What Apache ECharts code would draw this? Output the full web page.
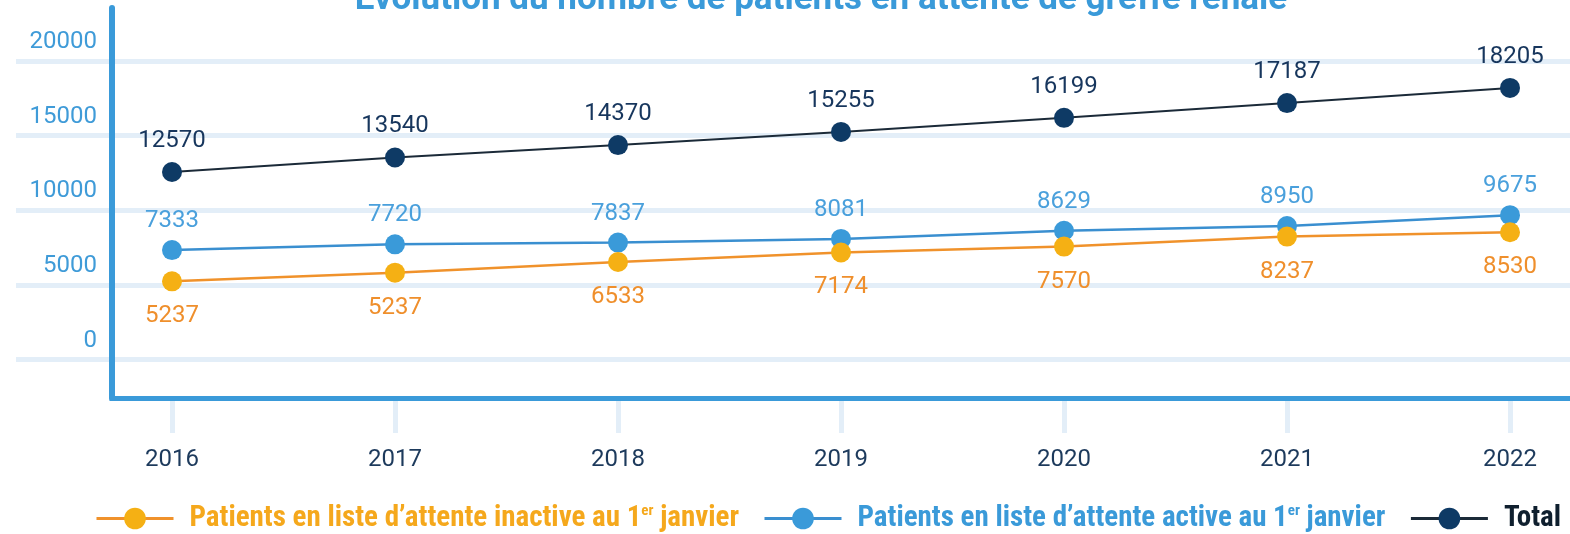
<!DOCTYPE html>
<html>
<head>
<meta charset="utf-8">
<script src="https://cdn.jsdelivr.net/npm/echarts@6/dist/echarts.min.js"></script>
<style>html,body{margin:0;padding:0;background:#fff}#c{width:1570px;height:534px}</style>
</head>
<body>
<div id="c"></div>
<script>
// ---- data ----
var years = ['2016', '2017', '2018', '2019', '2020', '2021', '2022'];
var inactive = [5237, 5820, 6533, 7174, 7570, 8237, 8530];
var inactiveLabels = ['5237', '5237', '6533', '7174', '7570', '8237', '8530'];
var active = [7333, 7720, 7837, 8081, 8629, 8950, 9675];
var total = [12570, 13540, 14370, 15255, 16199, 17187, 18205];
var yTicks = [0, 5000, 10000, 15000, 20000];
var titleText = 'Évolution du nombre de patients en attente de greffe rénale';
var nameInactive = 'Patients en liste d’attente inactive au 1er janvier';
var nameActive = 'Patients en liste d’attente active au 1er janvier';
var nameTotal = 'Total';

// ---- layout ----
var YMIN = -2580, YMAX = 23560;
var TOP = 8, BOTTOM = 136;
var BLUE = '#3a9ad9', GRIDC = '#e3eef8';
var FONT = 'Roboto, sans-serif';
var LFONT = "'Liberation Sans Narrow', 'Roboto Condensed', Roboto, sans-serif";
var LSIZE = 29;

function legendFmt(n) {
  if (n.indexOf('1er') >= 0) return '{a|' + n.replace('1er', '1}{sup|er}{a|') + '}';
  return '{a|' + n + '}';
}
function legendItem(name, color) {
  return {
    name: name,
    textStyle: {
      color: color,
      rich: {
        a: {color: color, fontSize: LSIZE, fontWeight: 'bold', fontFamily: LFONT},
        sup: {color: color, fontSize: 15, fontWeight: 'bold', fontFamily: LFONT, verticalAlign: 'top'}
      }
    }
  };
}

var chart = echarts.init(document.getElementById('c'), null, {renderer: 'canvas'});
chart.setOption({
  animation: false,
  backgroundColor: '#ffffff',
  graphic: [{
    type: 'text', x: 821, y: -17, z: 10,
    style: {text: titleText, fill: BLUE, font: 'bold 35px ' + FONT, textAlign: 'center', textVerticalAlign: 'top'}
  }],
  grid: [
    {left: 172, right: 60, top: TOP, bottom: BOTTOM},
    {left: 112, right: 0, top: TOP, bottom: BOTTOM},
    {left: 16, right: 0, top: TOP, bottom: BOTTOM}
  ],
  xAxis: [
    {
      gridIndex: 0, type: 'category', data: years, boundaryGap: false, position: 'bottom',
      axisLine: {show: false, onZero: false},
      axisTick: {show: true, inside: false, length: 35, interval: 0, lineStyle: {color: GRIDC, width: 5}},
      axisLabel: {margin: 50, fontSize: 24, color: '#1d3a5c', fontFamily: FONT, interval: 0},
      splitLine: {show: false}
    },
    {
      gridIndex: 1, type: 'value', min: 0, max: 1, z: 5, position: 'bottom',
      axisLine: {show: true, onZero: false, lineStyle: {color: BLUE, width: 5, cap: 'square'}},
      axisTick: {show: false}, axisLabel: {show: false}, splitLine: {show: false}
    },
    {
      gridIndex: 2, type: 'value', min: 0, max: 1, show: false
    }
  ],
  yAxis: [
    {gridIndex: 0, type: 'value', min: YMIN, max: YMAX, show: false},
    {
      gridIndex: 1, type: 'value', min: YMIN, max: YMAX, z: 5,
      minInterval: 5000, maxInterval: 5000,
      axisLine: {show: true, onZero: false, lineStyle: {color: BLUE, width: 6}},
      axisTick: {show: false},
      splitLine: {show: false},
      axisLabel: {
        margin: 15, fontSize: 24, color: '#3f9bd8', fontFamily: FONT,
        verticalAlign: 'bottom', padding: [0, 0, 7, 0],
        customValues: yTicks,
        formatter: function (v) { return yTicks.indexOf(v) >= 0 ? String(v) : ''; }
      }
    },
    {
      gridIndex: 2, type: 'value', min: YMIN, max: YMAX,
      minInterval: 5000, maxInterval: 5000,
      axisLine: {show: false}, axisTick: {show: false}, axisLabel: {show: false},
      splitLine: {show: true, showMinLine: false, showMaxLine: false, lineStyle: {color: GRIDC, width: 5}}
    }
  ],
  legend: {
    left: 95, top: 504, padding: 0,
    itemWidth: 77, itemHeight: 27, itemGap: 24,
    lineStyle: {width: 3},
    formatter: legendFmt,
    textStyle: {fontSize: LSIZE, fontWeight: 'bold', fontFamily: LFONT, padding: [0, 0, 0, 11]},
    data: [legendItem(nameInactive, '#f5a81c'), legendItem(nameActive, '#3a9ad9'), legendItem(nameTotal, '#0f1f2e')]
  },
  series: [
    {
      name: nameInactive, type: 'line', xAxisIndex: 0, yAxisIndex: 0, data: inactive, z: 3,
      symbol: 'circle', symbolSize: 20,
      itemStyle: {color: '#f5b014'}, lineStyle: {color: '#f0922b', width: 2.5},
      label: {show: true, position: 'bottom', distance: 13, fontSize: 24, fontFamily: FONT, color: '#ef8f2c',
        formatter: function (p) { return inactiveLabels[p.dataIndex]; }}
    },
    {
      name: nameActive, type: 'line', xAxisIndex: 0, yAxisIndex: 0, data: active, z: 2,
      symbol: 'circle', symbolSize: 20,
      itemStyle: {color: '#3a9ad9'}, lineStyle: {color: '#3a8fd0', width: 2.5},
      label: {show: true, position: 'top', distance: 7, fontSize: 24, fontFamily: FONT, color: '#4aa0dc'}
    },
    {
      name: nameTotal, type: 'line', xAxisIndex: 0, yAxisIndex: 0, data: total, z: 4,
      symbol: 'circle', symbolSize: 20,
      itemStyle: {color: '#0e3a65'}, lineStyle: {color: '#1b2a38', width: 2},
      label: {show: true, position: 'top', distance: 9, fontSize: 24, fontFamily: FONT, color: '#17365d'}
    }
  ]
});
</script>
</body>
</html>
